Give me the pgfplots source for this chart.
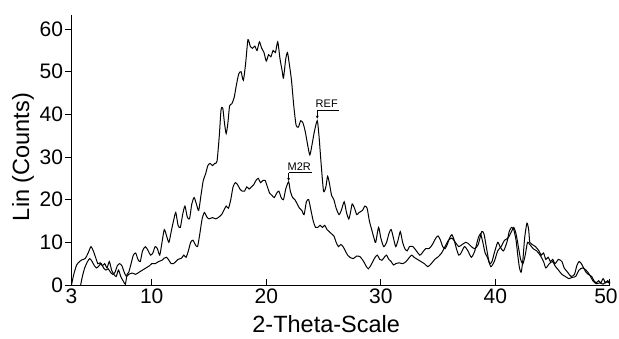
\documentclass[border=0pt]{standalone}
\usepackage{fontspec}
\setmainfont{Liberation Sans}
\usepackage{pgfplots}
\pgfplotsset{compat=1.18}
\usetikzlibrary{arrows.meta}
\begin{document}
\begin{tikzpicture}
\path[use as bounding box] (-71.5pt,-53pt) rectangle (547.5pt,285pt);
\begin{axis}[
  at={(0pt,0pt)}, anchor=south west,
  scale only axis, width=538.5pt, height=270pt,
  xmin=3, xmax=50, ymin=0, ymax=63.3,
  axis x line=bottom, axis y line=left,
  axis line style={-, line width=1pt},
  xtick={3,10,20,30,40,50}, ytick={0,10,20,30,40,50,60},
  xticklabels={3,10,20,30,40,{\hspace*{-8pt}50}},
  xtick align=inside, ytick align=outside,
  major tick length=6pt,
  tick style={line width=1pt, black},
  /pgf/number format/assume math mode=true,
  ticklabel style={font=\fontsize{21}{21}\selectfont},
  yticklabel style={xshift=1pt},
  xlabel={2-Theta-Scale}, ylabel={Lin (Counts)},
  xlabel style={at={(axis description cs:0.473,-0.145)}, anchor=center, font=\fontsize{23.5}{24}\selectfont},
  ylabel style={at={(axis description cs:-0.09,0.474)}, anchor=center, font=\fontsize{23.5}{24}\selectfont},
  clip=false,
]
% REF
\addplot[black, line width=1pt, smooth, tension=0.4] coordinates {
(3.0,0) (3.2,2.5) (3.45,4.7) (3.7,5.5) (3.9,5.9) (4.2,6.2) (4.45,7.5) (4.7,9.0) (4.9,8.0) (5.1,6.5)
(5.3,5.0) (5.5,5.2) (5.7,4.5) (5.9,5.0) (6.1,4.0) (6.3,5.5) (6.5,3.5) (6.7,2.5) (6.9,2.0) (7.1,3.5)
(7.3,2.0) (7.5,1.0) (7.7,0.2) (7.85,2.5) (8.0,3.0) (8.2,5.0) (8.4,7.0) (8.6,7.5) (8.8,6.0) (9.0,5.5)
(9.2,8.0) (9.45,9.0) (9.7,8.0) (9.9,7.0) (10.1,7.5) (10.3,9.0) (10.5,8.5) (10.7,7.0) (10.9,10.0) (11.1,13.0)
(11.3,11.5) (11.5,10.0) (11.7,12.5) (11.9,15.0) (12.1,17.0) (12.3,14.0) (12.5,13.5) (12.7,16.5) (12.9,18.5) (13.1,16.0)
(13.3,15.5) (13.5,19.0) (13.7,20.5) (13.9,19.0) (14.1,17.5) (14.3,21.0) (14.5,24.5) (14.7,26.0) (14.9,28.0) (15.1,28.5)
(15.3,28.0) (15.5,28.5) (15.7,29.0) (15.9,35.0) (16.05,41.0) (16.2,41.5) (16.35,38.0) (16.5,35.5) (16.65,38.0) (16.8,42.0)
(17.0,42.5) (17.2,44.0) (17.4,47.0) (17.6,49.5) (17.8,50.0) (18.0,48.0) (18.2,52.0) (18.4,57.5) (18.6,56.0) (18.8,55.5)
(19.0,56.0) (19.2,55.0) (19.4,57.0) (19.6,55.5) (19.8,54.5) (20.0,52.5) (20.2,54.0) (20.4,53.5) (20.6,55.0) (20.8,54.5)
(21.0,57.0) (21.2,53.0) (21.4,50.0) (21.5,48.5) (21.7,53.0) (21.85,54.5) (22.0,52.0) (22.2,48.0) (22.4,42.0) (22.6,37.5)
(22.8,37.0) (23.0,38.5) (23.2,38.0) (23.4,36.0) (23.6,33.0) (23.8,30.5) (24.0,33.0) (24.2,36.0) (24.45,38.5) (24.6,35.0)
(24.8,28.0) (25.0,22.0) (25.2,23.0) (25.35,25.5) (25.5,24.0) (25.7,21.0) (25.9,20.0) (26.1,18.0) (26.35,16.5) (26.55,17.5)
(26.8,19.5) (27.0,17.0) (27.2,15.5) (27.35,17.0) (27.5,19.0) (27.7,18.0) (27.9,16.5) (28.1,17.0) (28.4,17.5) (28.6,18.5)
(28.8,18.0) (29.0,15.0) (29.2,13.0) (29.4,11.0) (29.55,10.0) (29.8,13.5) (30.0,11.0) (30.25,9.0) (30.5,10.0) (30.7,12.0)
(30.9,13.0) (31.1,11.0) (31.3,9.0) (31.5,10.5) (31.7,12.5) (31.9,10.0) (32.1,8.5) (32.3,8.0) (32.5,9.0) (32.8,9.0)
(33.1,8.0) (33.4,7.0) (33.6,7.5) (33.9,8.5) (34.2,8.5) (34.5,9.5) (34.8,11.0) (35.0,11.5) (35.2,10.5) (35.4,9.0)
(35.6,8.5) (35.8,9.5) (36.0,11.0) (36.2,11.8) (36.4,10.5) (36.6,8.5) (36.8,7.0) (37.0,7.5) (37.3,9.0) (37.6,8.0)
(37.9,6.5) (38.2,8.0) (38.5,11.0) (38.7,12.0) (38.9,10.0) (39.1,7.5) (39.3,6.5) (39.5,5.0) (39.7,5.5) (39.9,7.5)
(40.2,10.0) (40.4,9.0) (40.7,8.0) (41.0,10.0) (41.2,12.5) (41.4,13.5) (41.6,13.0) (41.8,10.5) (41.95,7.0) (42.1,4.0)
(42.25,3.0) (42.4,6.0) (42.55,11.0) (42.75,14.5) (42.9,13.0) (43.0,10.0) (43.2,9.5) (43.5,9.0) (43.8,8.0) (44.0,7.0)
(44.2,7.5) (44.4,6.0) (44.6,6.5) (44.8,5.5) (45.0,6.0) (45.2,5.0) (45.5,6.0) (45.8,5.5) (46.0,4.0) (46.3,3.0)
(46.6,2.0) (46.9,2.5) (47.1,4.5) (47.3,5.5) (47.5,5.0) (47.7,4.0) (47.9,3.0) (48.1,2.5) (48.4,2.0) (48.6,1.0)
(48.8,0.5) (49.0,1.0) (49.2,0.5) (49.4,1.5) (49.6,0.5) (49.8,1.0) (50.0,0.5)
};
% M2R
\addplot[black, line width=1pt, smooth, tension=0.4] coordinates {
(3.8,0) (3.95,2.0) (4.15,4.0) (4.4,5.5) (4.6,6.2) (4.8,5.5) (5.0,4.5) (5.2,4.0) (5.4,4.5) (5.6,5.0)
(5.8,4.0) (6.0,3.5) (6.2,3.8) (6.4,3.0) (6.6,2.5) (6.8,3.0) (7.0,4.5) (7.2,5.0) (7.4,4.5) (7.6,3.0)
(7.8,2.0) (8.0,2.5) (8.3,2.8) (8.6,2.5) (8.9,3.0) (9.2,3.5) (9.5,4.0) (9.8,4.5) (10.0,5.0) (10.3,5.0)
(10.6,5.5) (10.9,5.8) (11.1,6.3) (11.3,6.5) (11.5,5.8) (11.7,5.0) (11.9,5.0) (12.1,5.5) (12.3,6.0) (12.6,6.3)
(12.8,7.0) (13.0,6.5) (13.2,8.0) (13.4,10.0) (13.6,10.5) (13.8,9.5) (14.0,9.0) (14.2,12.0) (14.4,15.5) (14.6,17.0)
(14.8,16.0) (15.0,15.5) (15.3,15.8) (15.6,15.5) (15.9,16.0) (16.1,16.5) (16.3,17.5) (16.5,18.5) (16.7,18.0) (16.9,20.0)
(17.1,23.0) (17.3,24.0) (17.5,23.5) (17.7,22.5) (17.9,22.0) (18.1,22.0) (18.3,23.0) (18.5,22.5) (18.7,23.0) (18.9,23.5)
(19.1,24.5) (19.3,25.0) (19.5,24.0) (19.7,24.5) (19.9,24.5) (20.1,23.0) (20.3,21.5) (20.5,21.0) (20.7,20.5) (20.9,21.5)
(21.1,22.0) (21.3,20.5) (21.5,20.0) (21.7,22.5) (21.95,24.2) (22.1,22.0) (22.3,20.5) (22.5,20.0) (22.7,19.0) (22.9,18.0)
(23.1,17.5) (23.3,16.5) (23.5,19.5) (23.7,20.0) (23.9,17.5) (24.1,15.0) (24.3,13.5) (24.5,13.5) (24.7,14.0) (24.9,13.5)
(25.1,14.0) (25.3,13.0) (25.5,12.5) (25.7,12.0) (25.9,11.5) (26.1,10.0) (26.3,9.0) (26.5,9.5) (26.7,9.0) (26.9,8.0)
(27.1,7.0) (27.3,6.5) (27.6,6.2) (27.9,6.8) (28.2,6.6) (28.5,5.5) (28.7,4.5) (28.9,3.8) (29.1,4.5) (29.3,5.5)
(29.5,6.5) (29.7,7.0) (29.9,6.0) (30.1,5.8) (30.3,6.5) (30.5,7.0) (30.7,6.0) (30.9,5.5) (31.1,4.7) (31.3,5.0)
(31.6,5.2) (31.9,5.0) (32.2,5.5) (32.5,6.5) (32.7,7.0) (32.9,6.5) (33.2,6.0) (33.5,5.5) (33.8,5.0) (34.1,4.3)
(34.4,5.0) (34.7,6.0) (35.0,6.6) (35.3,7.5) (35.6,9.0) (35.9,10.5) (36.2,11.0) (36.5,10.0) (36.8,9.0) (37.1,9.5)
(37.4,10.0) (37.6,9.8) (37.9,9.0) (38.2,8.5) (38.5,9.5) (38.8,12.5) (39.0,12.0) (39.2,9.0) (39.4,6.0) (39.6,4.3)
(39.9,5.5) (40.2,8.0) (40.5,9.0) (40.8,10.5) (41.1,11.0) (41.4,12.5) (41.6,13.5) (41.8,12.0) (42.0,9.0) (42.2,6.0)
(42.4,5.0) (42.6,7.0) (42.8,10.0) (43.0,9.5) (43.3,8.5) (43.6,8.0) (43.9,7.0) (44.2,5.5) (44.4,4.0) (44.7,5.0)
(45.0,5.5) (45.2,4.5) (45.5,3.5) (45.8,2.5) (46.1,2.0) (46.4,1.5) (46.7,1.8) (47.0,2.0) (47.3,3.5) (47.6,4.0)
(47.9,3.5) (48.2,2.5) (48.5,1.0) (48.8,0.3) (49.1,0.5) (49.4,0.2) (49.7,0.8) (50.0,0.3)
};
% annotations
\draw[line width=0.7pt] (axis cs:24.45,41.0) -- (axis cs:26.35,41.0);
\draw[line width=0.7pt, -{Stealth[length=3pt,width=3pt]}] (axis cs:24.45,41.0) -- (axis cs:24.45,39.0);
\node[anchor=south west, inner sep=0pt, font=\fontsize{11}{11}\selectfont] at (axis cs:24.3,41.6) {REF};
\draw[line width=0.7pt] (axis cs:21.95,26.3) -- (axis cs:24.0,26.3);
\draw[line width=0.7pt, -{Stealth[length=3pt,width=3pt]}] (axis cs:21.95,26.3) -- (axis cs:21.95,24.4);
\node[anchor=south west, inner sep=0pt, font=\fontsize{11}{11}\selectfont] at (axis cs:21.85,26.9) {M2R};
\end{axis}
\end{tikzpicture}
\end{document}
